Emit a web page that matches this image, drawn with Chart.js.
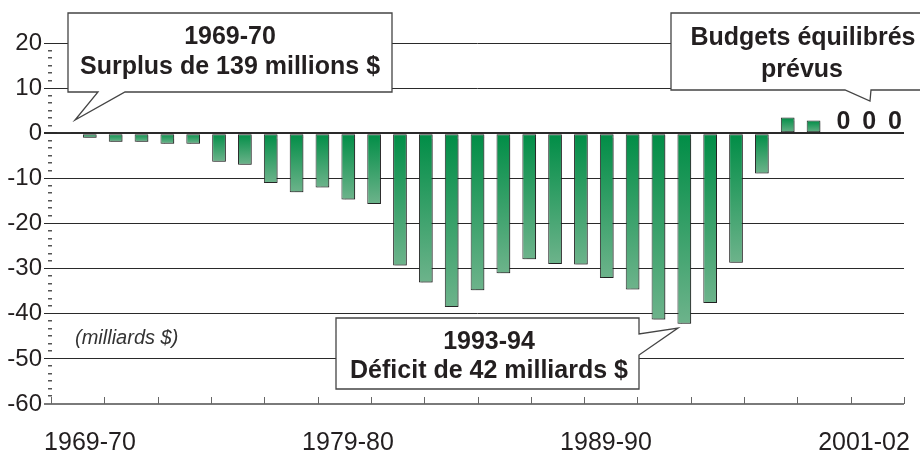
<!DOCTYPE html>
<html>
<head>
<meta charset="utf-8">
<script src="https://cdn.jsdelivr.net/npm/chart.js@4.4.0/dist/chart.umd.min.js"></script>
<style>
  html, body { margin: 0; padding: 0; background: #fff; }
</style>
</head>
<body>
<canvas id="chart" width="920" height="460"></canvas>
<script>
// fiscal years, 1969-70 .. 2001-02
const years = [
  '1969-70', '1970-71', '1971-72', '1972-73', '1973-74', '1974-75', '1975-76',
  '1976-77', '1977-78', '1978-79', '1979-80', '1980-81', '1981-82', '1982-83',
  '1983-84', '1984-85', '1985-86', '1986-87', '1987-88', '1988-89', '1989-90',
  '1990-91', '1991-92', '1992-93', '1993-94', '1994-95', '1995-96', '1996-97',
  '1997-98', '1998-99', '1999-00', '2000-01', '2001-02'
];
// budget balance, billions of $
const balance = [
  0.139, -1.0, -1.9, -1.9, -2.3, -2.3, -6.3, -7.0, -11.0, -13.1, -12.0,
  -14.7, -15.7, -29.3, -33.1, -38.5, -34.8, -31.0, -27.9, -29.0, -29.1,
  -32.1, -34.6, -41.3, -42.2, -37.6, -28.7, -8.9, 3.5, 2.8, 0, 0, 0
];
const axisLabels = ['1969-70', '1979-80', '1989-90', '2001-02'];

const INK = '#231f20';
const FONT = '"Liberation Sans", Arial, Helvetica, sans-serif';
Chart.defaults.font.family = FONT;

function barFill(c) {
  const chart = c.chart;
  if (!chart.chartArea || c.type !== 'data') return '#008d46';
  const y = chart.scales.y;
  const top = y.getPixelForValue(Math.max(c.raw, 0));
  const bottom = y.getPixelForValue(Math.min(c.raw, 0));
  if (bottom - top < 1) return '#a0a0a0';
  const g = chart.ctx.createLinearGradient(0, top, 0, bottom);
  g.addColorStop(0, '#008d46');
  g.addColorStop(1, '#6db38b');
  return g;
}

function callout(ctx, box, side, a, b, tip, lines) {
  const [x0, y0, x1, y1] = box;
  ctx.beginPath();
  ctx.moveTo(x0, y0);
  ctx.lineTo(x1, y0);
  if (side === 'right') {
    ctx.lineTo(x1, a); ctx.lineTo(tip[0], tip[1]); ctx.lineTo(x1, b);
    ctx.lineTo(x1, y1); ctx.lineTo(x0, y1);
  } else {
    ctx.lineTo(x1, y1); ctx.lineTo(b, y1); ctx.lineTo(tip[0], tip[1]);
    ctx.lineTo(a, y1); ctx.lineTo(x0, y1);
  }
  ctx.closePath();
  ctx.fillStyle = '#fff';
  ctx.fill();
  ctx.strokeStyle = '#444';
  ctx.lineWidth = 1.3;
  ctx.stroke();
  ctx.fillStyle = INK;
  ctx.font = 'bold 25px ' + FONT;
  ctx.textAlign = 'center';
  ctx.textBaseline = 'middle';
  lines.forEach(l => ctx.fillText(l.text, l.x, l.y));
}

const decor = {
  id: 'decor',
  beforeDatasetsDraw(chart) {
    const { ctx, chartArea: area, scales: { x, y } } = chart;
    ctx.save();
    // minor ticks on the value axis
    ctx.fillStyle = '#555';
    const major = y.ticks.map(t => y.getPixelForValue(t.value));
    for (let i = 0; i < major.length - 1; i++) {
      for (let k = 1; k < 6; k++) {
        const py = major[i] + (major[i + 1] - major[i]) * k / 6;
        ctx.fillRect(area.left - 3, Math.round(py) - 1, 4, 1.5);
      }
    }
    // tick marks along the bottom axis
    ctx.strokeStyle = '#666';
    ctx.lineWidth = 1;
    ctx.beginPath();
    const n = x.ticks.length;
    for (let k = 0; k < n; k++) {
      const px = Math.round(area.left + (area.right - area.left) * k / (n - 1)) + 0.5;
      ctx.moveTo(px, area.bottom);
      ctx.lineTo(px, area.bottom - 7);
    }
    ctx.stroke();
    ctx.restore();
  },
  beforeDatasetDraw(chart) {
    const ctx = chart.ctx;
    ctx.save();
    ctx.shadowColor = 'rgba(0,0,0,0.28)';
    ctx.shadowOffsetX = 1.5;
    ctx.shadowOffsetY = 1;
    ctx.shadowBlur = 1;
  },
  afterDatasetDraw(chart) {
    chart.ctx.restore();
  },
  afterDraw(chart) {
    const { ctx, scales: { y } } = chart;
    ctx.save();
    // forecast zeros
    ctx.fillStyle = INK;
    ctx.font = 'bold 25px ' + FONT;
    ctx.textAlign = 'center';
    ctx.textBaseline = 'middle';
    const meta = chart.getDatasetMeta(0);
    meta.data.forEach((bar, i) => {
      if (balance[i] === 0) ctx.fillText('0', bar.x + 4, y.getPixelForValue(0) - 11);
    });
    // units note
    ctx.font = 'italic 20px ' + FONT;
    ctx.textAlign = 'left';
    ctx.fillStyle = '#333';
    ctx.fillText('(milliards $)', 75, 338);

    callout(ctx, [68, 13, 392, 92], 'bottom', 98, 125, [75, 120], [
      { text: '1969-70', x: 230, y: 37 },
      { text: 'Surplus de 139 millions $', x: 230, y: 67 }
    ]);
    callout(ctx, [336, 318, 639, 389], 'right', 334, 355, [678, 328], [
      { text: '1993-94', x: 489, y: 342 },
      { text: 'Déficit de 42 milliards $', x: 489, y: 371 }
    ]);
    callout(ctx, [671, 13, 935, 90], 'bottom', 845, 871, [870, 101], [
      { text: 'Budgets équilibrés', x: 803, y: 38 },
      { text: 'prévus', x: 802, y: 70 }
    ]);
    ctx.restore();
  }
};

new Chart(document.getElementById('chart'), {
  type: 'bar',
  data: {
    labels: years,
    datasets: [{
      data: balance,
      backgroundColor: barFill,
      borderColor: c => Math.abs(c.raw) < 0.5 ? '#a0a0a0' : '#2b2b2b',
      borderWidth: 1,
      borderSkipped: false,
      categoryPercentage: 1,
      barPercentage: 0.53,
      xAxisID: 'x',
      yAxisID: 'y'
    }]
  },
  options: {
    responsive: false,
    animation: false,
    devicePixelRatio: 1,
    layout: { padding: { left: 0, right: 16, top: 43, bottom: 0 } },
    plugins: { legend: { display: false }, tooltip: { enabled: false } },
    scales: {
      x: {
        type: 'category',
        display: false,
        offset: true
      },
      xl: {
        type: 'linear',
        position: 'bottom',
        offset: false,
        min: -0.151,
        max: 3.155,
        afterFit: s => { s.height = 56; s.paddingLeft = 0; s.paddingRight = 0; },
        grid: { display: false, drawTicks: false },
        border: { display: false },
        ticks: {
          stepSize: 1,
          includeBounds: false,
          autoSkip: false,
          maxRotation: 0,
          padding: 24,
          color: INK,
          font: { size: 25 },
          callback: v => axisLabels[v] ?? ''
        }
      },
      y: {
        min: -60,
        max: 20,
        afterFit: s => { s.width = 51; },
        ticks: { stepSize: 10, padding: 2, color: INK, font: { size: 24 } },
        grid: {
          color: c => c.tick.value === -60 ? '#7a7a7a' : '#2a2a2a',
          lineWidth: c => (c.tick.value === 0 || c.tick.value === -60) ? 2 : 1,
          tickLength: 7
        },
        border: { display: false }
      }
    }
  },
  plugins: [decor]
});
</script>
</body>
</html>
